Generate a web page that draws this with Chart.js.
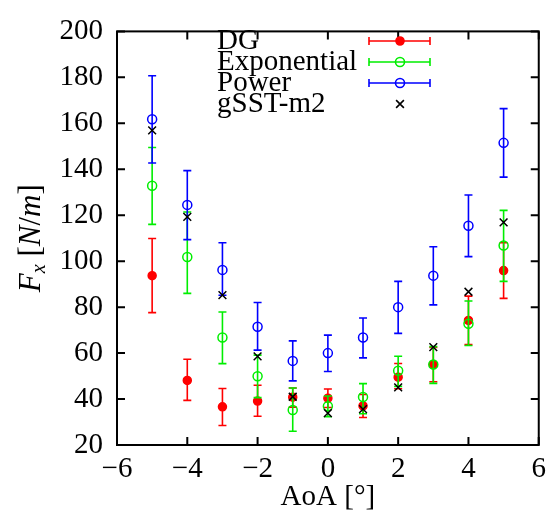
<!DOCTYPE html>
<html>
<head>
<meta charset="utf-8">
<script src="https://cdn.jsdelivr.net/npm/chart.js@4.4.1/dist/chart.umd.min.js"></script>
<style>
  html, body { margin: 0; padding: 0; background: #fff; }
  canvas { display: block; }
</style>
</head>
<body>
<canvas id="fx" width="553" height="515"></canvas>
<script>
// angle of attack, deg
const aoa = [-5, -4, -3, -2, -1, 0, 1, 2, 3, 4, 5];

// DG
const dgVal = [93.7, 48.1, 36.6, 39.1, 40.8, 40.4, 37.0, 49.5, 55.0, 74.2, 95.9];
const dgLo  = [77.6, 39.4, 28.5, 32.5, 36.5, 36.3, 32.0, 44.5, 47.5, 63.7, 83.8];
const dgHi  = [109.9, 57.3, 44.6, 46.0, 44.8, 44.4, 42.0, 55.5, 62.5, 84.8, 108.0];

// Exponential
const expVal = [132.8, 101.8, 66.8, 49.9, 35.2, 36.9, 40.9, 52.3, 55.0, 72.8, 106.8];
const expLo  = [116.0, 86.0, 55.4, 40.6, 26.0, 32.3, 33.6, 45.5, 46.8, 63.3, 91.2];
const expHi  = [149.5, 121.4, 77.9, 59.1, 44.8, 41.3, 46.7, 58.6, 62.8, 82.7, 122.1];

// Power
const powVal = [161.8, 124.5, 96.2, 71.5, 56.6, 60.0, 66.8, 80.0, 93.7, 115.4, 151.5];
const powLo  = [142.7, 109.4, 85.2, 61.3, 47.9, 52.0, 57.9, 68.6, 81.0, 102.0, 136.6];
const powHi  = [180.7, 139.4, 108.0, 82.0, 65.3, 67.8, 75.3, 91.2, 106.3, 128.8, 166.4];

// gSST-m2
const sstVal = [156.9, 119.3, 85.2, 58.6, 41.0, 33.9, 35.6, 45.1, 62.6, 86.7, 116.9];

const FONT = "'Liberation Serif', 'DejaVu Serif', serif";
const FS = 29;

const pts = vals => aoa.map((a, i) => ({ x: a, y: vals[i] }));

// error bars, drawn under each dataset's markers
const errorBars = {
    id: 'errorBars',
    beforeDatasetDraw(chart, args) {
        const ds = chart.data.datasets[args.index];
        if (!ds.lo) return;
        const { x, y } = chart.scales;
        const ctx = chart.ctx;
        ctx.save();
        ctx.strokeStyle = ds.borderColor;
        ctx.lineWidth = 1.6;
        ds.data.forEach((p, i) => {
            const px = x.getPixelForValue(p.x);
            const y1 = y.getPixelForValue(ds.lo[i]);
            const y2 = y.getPixelForValue(ds.hi[i]);
            ctx.beginPath();
            ctx.moveTo(px, y1); ctx.lineTo(px, y2);
            ctx.moveTo(px - 4, y1); ctx.lineTo(px + 4, y1);
            ctx.moveTo(px - 4, y2); ctx.lineTo(px + 4, y2);
            ctx.stroke();
        });
        ctx.restore();
    }
};

// frame, inside ticks, axis titles, gnuplot-style key
const decor = {
    id: 'decor',
    afterDraw(chart) {
        const { ctx, chartArea: a, scales } = chart;
        ctx.save();
        ctx.strokeStyle = '#000';
        ctx.lineWidth = 2;
        ctx.strokeRect(a.left, a.top, a.right - a.left, a.bottom - a.top);

        ctx.beginPath();
        scales.x.ticks.forEach(t => {
            const px = scales.x.getPixelForValue(t.value);
            ctx.moveTo(px, a.bottom); ctx.lineTo(px, a.bottom - 8);
            ctx.moveTo(px, a.top); ctx.lineTo(px, a.top + 8);
        });
        scales.y.ticks.forEach(t => {
            const py = scales.y.getPixelForValue(t.value);
            ctx.moveTo(a.left, py); ctx.lineTo(a.left + 8, py);
            ctx.moveTo(a.right, py); ctx.lineTo(a.right - 8, py);
        });
        ctx.stroke();

        ctx.fillStyle = '#000';
        ctx.textBaseline = 'middle';

        // x title
        ctx.font = `${FS}px ${FONT}`;
        ctx.textAlign = 'center';
        ctx.fillText('AoA [°]', (a.left + a.right) / 2, 497);

        // y title: F_x [N/m]
        const parts = [
            { t: 'F', f: `italic ${FS + 2}px ${FONT}`, dy: 0 },
            { t: 'x', f: `italic ${FS * 0.7}px ${FONT}`, dy: 5 },
            { t: ' [', f: `${FS + 2}px ${FONT}`, dy: 0 },
            { t: 'N', f: `italic ${FS + 2}px ${FONT}`, dy: 0 },
            { t: '/', f: `${FS + 2}px ${FONT}`, dy: 0 },
            { t: 'm', f: `italic ${FS + 2}px ${FONT}`, dy: 0 },
            { t: ']', f: `${FS + 2}px ${FONT}`, dy: 0 }
        ];
        let total = 0;
        parts.forEach(p => { ctx.font = p.f; p.w = ctx.measureText(p.t).width; total += p.w; });
        ctx.translate(30, (a.top + a.bottom) / 2);
        ctx.rotate(-Math.PI / 2);
        ctx.textAlign = 'left';
        ctx.textBaseline = 'alphabetic';
        let cx = -total / 2;
        parts.forEach(p => {
            ctx.font = p.f;
            ctx.fillText(p.t, cx, 10 + p.dy);
            cx += p.w;
        });
        ctx.restore();

        // key
        ctx.save();
        ctx.font = `${FS}px ${FONT}`;
        ctx.textBaseline = 'middle';
        ctx.textAlign = 'left';
        chart.data.datasets.forEach((ds, i) => {
            const ly = 41 + i * 21;
            ctx.fillStyle = '#000';
            ctx.fillText(ds.label, 217, ly);
            ctx.strokeStyle = ds.borderColor;
            ctx.lineWidth = 1.6;
            if (ds.lo) {
                ctx.beginPath();
                ctx.moveTo(369, ly); ctx.lineTo(430, ly);
                ctx.moveTo(369, ly - 4); ctx.lineTo(369, ly + 4);
                ctx.moveTo(430, ly - 4); ctx.lineTo(430, ly + 4);
                ctx.stroke();
            }
            ctx.fillStyle = ds.backgroundColor;
            Chart.helpers.drawPoint(ctx, {
                pointStyle: ds.pointStyle, radius: ds.pointRadius,
                rotation: 0, borderWidth: ds.borderWidth
            }, 400, ly);
        });
        ctx.restore();
    }
};

new Chart(document.getElementById('fx'), {
    type: 'scatter',
    data: {
        datasets: [
            { label: 'DG', data: pts(dgVal), lo: dgLo, hi: dgHi, order: 4,
              borderColor: '#ff0000', backgroundColor: '#ff0000',
              pointStyle: 'circle', pointRadius: 4, borderWidth: 1.5 },
            { label: 'Exponential', data: pts(expVal), lo: expLo, hi: expHi, order: 3,
              borderColor: '#00ee00', backgroundColor: 'rgba(0,0,0,0)',
              pointStyle: 'circle', pointRadius: 4.5, borderWidth: 1.5 },
            { label: 'Power', data: pts(powVal), lo: powLo, hi: powHi, order: 2,
              borderColor: '#0000ff', backgroundColor: 'rgba(0,0,0,0)',
              pointStyle: 'circle', pointRadius: 4.5, borderWidth: 1.5 },
            { label: 'gSST-m2', data: pts(sstVal), order: 1,
              borderColor: '#000000', backgroundColor: '#000000',
              pointStyle: 'crossRot', pointRadius: 5.5, borderWidth: 1.5 }
        ]
    },
    options: {
        responsive: false,
        animation: false,
        devicePixelRatio: 1,
        layout: { padding: { top: 22, right: 11, left: 0, bottom: 0 } },
        scales: {
            x: {
                type: 'linear', min: -6, max: 6,
                afterFit: s => { s.height = 70; },
                grid: { display: false, drawTicks: false },
                border: { display: false },
                ticks: {
                    stepSize: 2, padding: 7, color: '#000',
                    font: { family: FONT, size: FS },
                    callback: v => (v < 0 ? '\u2212' + Math.abs(v) : String(v))
                }
            },
            y: {
                min: 20, max: 200,
                afterFit: s => { s.width = 117; },
                grid: { display: false, drawTicks: false },
                border: { display: false },
                ticks: {
                    stepSize: 20, padding: 14, color: '#000',
                    font: { family: FONT, size: FS }
                }
            }
        },
        plugins: {
            legend: { display: false },
            tooltip: { enabled: false }
        }
    },
    plugins: [errorBars, decor]
});
</script>
</body>
</html>
